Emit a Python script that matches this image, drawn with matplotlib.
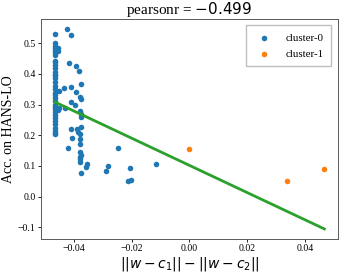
import numpy as np
import matplotlib
matplotlib.use("Agg")
import matplotlib.pyplot as plt

plt.rcParams['font.family'] = ['Liberation Serif', 'DejaVu Serif']
plt.rcParams['mathtext.fontset'] = 'dejavusans'

# cluster-0 points (x = ||w-c1|| - ||w-c2||, y = accuracy on HANS-LO)
c0_x = [-0.0467, -0.0467, -0.0466, -0.0467, -0.0467, -0.0466, -0.0467, -0.0467, -0.0465,
        -0.0467, -0.0467, -0.0466, -0.0467, -0.0467, -0.0466, -0.0467, -0.0467, -0.0466,
        -0.0467, -0.0467, -0.0466, -0.0467, -0.0467, -0.0466, -0.0467, -0.0467, -0.0466,
        -0.0467, -0.0467, -0.0466, -0.0467, -0.0467, -0.0466, -0.0467,
        -0.0455, -0.0457, -0.0453, -0.0452, -0.0454,
        -0.0424, -0.0410, -0.0416, -0.0392, -0.0384, -0.0375, -0.0436, -0.0409, -0.0394,
        -0.0380, -0.0374, -0.0409, -0.0395, -0.0432, -0.0378, -0.0377, -0.0376, -0.0375,
        -0.0410, -0.0390, -0.0385, -0.0378, -0.0407, -0.0378, -0.0378, -0.0420, -0.0247,
        -0.0378, -0.0377, -0.0379, -0.0380, -0.0378, -0.0355, -0.0358, -0.0374, -0.0282,
        -0.0289, -0.0205, -0.0214, -0.0201, -0.0114]
c0_y = [0.528, 0.500, 0.492, 0.485, 0.478, 0.470, 0.462, 0.440, 0.437,
        0.430, 0.420, 0.405, 0.395, 0.385, 0.372, 0.360, 0.352, 0.338,
        0.330, 0.322, 0.310, 0.300, 0.292, 0.284, 0.275, 0.265, 0.255,
        0.245, 0.235, 0.225, 0.215, 0.208, 0.204, 0.395,
        0.485, 0.475, 0.345, 0.290, 0.283,
        0.546, 0.527, 0.434, 0.426, 0.410, 0.366, 0.353, 0.356, 0.340,
        0.326, 0.317, 0.308, 0.300, 0.288, 0.280, 0.270, 0.260, 0.228,
        0.220, 0.220, 0.212, 0.205, 0.190, 0.187, 0.172, 0.160, 0.158,
        0.147, 0.136, 0.130, 0.122, 0.114, 0.107, 0.098, 0.076, 0.100,
        0.084, 0.094, 0.051, 0.054, 0.105]

# cluster-1 points
c1_x = [-0.0002, 0.0340, 0.0468]
c1_y = [0.155, 0.051, 0.091]

# regression line parameters
fit_slope = -4.42
fit_intercept = 0.102

title_text = "pearsonr = $-0.499$"
x_label = r"$||w-c_1|| - ||w-c_2||$"
y_label = "Acc. on HANS-LO"
legend_labels = ["cluster-0", "cluster-1"]

all_x = np.array(c0_x + c1_x)

fig = plt.figure(figsize=(3.43, 2.74), dpi=100)
ax = fig.add_axes([0.12, 0.128, 0.865, 0.803])
ax.scatter(c0_x, c0_y, s=16, color='tab:blue', label=legend_labels[0], zorder=2, linewidths=0)
ax.scatter(c1_x, c1_y, s=16, color='tab:orange', label=legend_labels[1], zorder=2, linewidths=0)
xs = np.array([all_x.min(), all_x.max()])
ax.plot(xs, fit_intercept + fit_slope * xs, color='tab:green', lw=2, zorder=3)

ax.set_title(title_text, fontsize=11, pad=3)
ax.set_xlabel(x_label, fontsize=10, labelpad=1)
ax.set_ylabel(y_label, fontsize=10, labelpad=2)
ax.tick_params(labelsize=7, length=2, width=0.6, pad=2)
ax.set_xticks([-0.04, -0.02, 0.0, 0.02, 0.04])
for sp in ax.spines.values():
    sp.set_linewidth(0.7)
    sp.set_color('0.35')
ax.legend(loc='upper right', fontsize=7.8, markerscale=1.0, handletextpad=1.0,
          borderpad=0.7, labelspacing=0.6, borderaxespad=0.6,
          framealpha=1, edgecolor='0.75', fancybox=False)

fig.savefig("out.png", dpi=100)
